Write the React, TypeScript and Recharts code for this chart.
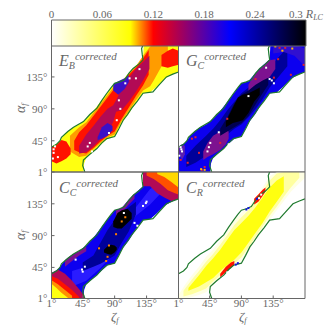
import React from "react";
import { ComposedChart, BarChart, Bar, Area, Line, Scatter, XAxis, YAxis } from "recharts";

type Band = [number, number, number][];
type Pt = [number, number];

const tickVals = [1, 45, 90, 135];
const barTicks = [0, 0.06, 0.12, 0.18, 0.24, 0.3];
const barStops: [number, string][] = [[0, "#ffffff"], [0.31, "#ffff00"], [0.4, "#ff0000"], [0.7, "#0000ff"], [1, "#000000"]];
const GRAY = "#666666";
const FONT = "'Liberation Serif', serif";

const upperContour: Pt[] = [[1,36],[8,40],[13,45],[15,50],[24,58],[32,64],[46,72],[55,82],[65,91],[72,102],[79,112],[85,120],[90,126],[97,128],[104,131],[110,140],[116,147],[124,153],[130,159],[129,166],[128,175],[130,180]];
const lowerContour: Pt[] = [[48,1],[45,10],[46,18],[55,26],[65,34],[72,42],[79,48],[90,51],[96,62],[102,74],[108,82],[114,91],[122,101],[130,112],[144,114],[152,123],[163,135],[172,139],[180,142]];
const fullStripe: Band = [[1,1,37],[10,1,42],[20,1,55],[30,1,63],[40,1,68],[46,1,73],[47,13,74],[50,21,76],[60,30,87],[70,39,100],[80,48,113],[90,51,126],[100,70,129],[110,83,141],[120,99,151],[130,112,160],[131,112,180],[140,113,180],[150,122,180],[160,132,180],[170,138,180],[180,142,180]];

// E_B
const ebOrange: Band = [[27,30,52],[40,22,64],[50,24,71],[60,33,84],[70,42,97],[80,50,110],[90,54,123],[100,73,128],[110,87,140],[120,102,150],[130,116,165],[140,122,178],[145,130,180],[155,148,180],[165,165,180]];
const ebRed: Band = [[33,32,45],[40,29,57],[50,27,67],[60,35,80],[70,44,93],[80,52,106],[90,58,119],[100,76,126],[110,92,138],[120,108,148],[130,123,161],[138,138,173]];
const ebCrimson: Band = [[40,27,38],[50,29,54],[60,37,66],[70,47,79],[80,55,90],[88,72,95],[92,86,102],[100,88,118],[110,100,134],[120,114,146],[130,130,156],[139,146,165]];
const ebBlueLow: Band = [[66,46,50],[72,48,64],[80,52,70],[87,60,66]];
const ebBlueHigh: Band = [[88,116,125],[95,110,129],[104,118,133],[110,128,137]];
const ebBlobLow: Band = [[1,16,36],[8,13,39],[15,16,46],[22,20,44],[28,26,34]];
const ebBlobHigh: Band = [[156,150,166],[165,148,172],[172,150,175],[180,152,172]];
const ebWhite: Pt[] = [[4,28],[4,33],[6,37],[10,22],[3,20],[52,37],[55,42],[93,74],[98,90],[96,102],[120,133],[125,146],[111,133],[58,30],[82,56],[105,126]];

// G_C
const gcNavy: Band = [[12,8,24],[25,14,38],[40,24,52],[50,34,62],[60,44,74],[70,54,88],[80,62,100],[90,68,112],[100,78,120],[110,90,128],[120,104,136],[130,120,148],[140,132,160],[155,150,176]];
const gcLobeLow: Band = [[36,18,30],[42,22,42],[50,26,52],[60,32,58],[68,40,60],[72,48,58]];
const gcLobeHigh: Band = [[100,114,124],[108,116,138],[118,120,148],[128,132,158],[138,146,160]];
const gcDark: Band = [[60,52,62],[70,58,78],[80,64,98],[90,70,110],[100,80,116],[110,96,124],[120,112,130],[128,124,134]];
const gcBlack: Band = [[68,64,72],[78,70,92],[85,72,106],[92,74,110],[100,84,112],[108,100,116],[116,110,120]];
const gcCornerLow: Band = [[1,28,36],[6,18,40],[10,26,38]];
const gcCornerHigh: Band = [[135,168,180],[150,170,180],[165,165,180],[180,150,175]];
const gcWhite: Pt[] = [[5,33],[6,30],[2,24],[4,36],[42,30],[44,36],[46,42],[72,40],[125,148],[130,132],[133,130],[136,126],[58,57],[100,108]];
const gcRed: Pt[] = [[4,18],[14,14],[30,28],[34,4],[38,8],[20,48],[25,50],[60,42],[70,76],[110,132],[136,134],[144,176],[152,176],[178,152],[160,138],[142,160]];
const gcYellow: Pt[] = [[33,5],[38,4],[138,178],[148,172],[162,175]];

// C_C
const ccBright: Band = [[30,18,40],[50,26,46],[70,44,60],[85,60,74],[100,92,104],[120,118,130],[140,134,156],[155,150,164]];
const ccNavy: Band = [[45,40,52],[60,46,62],[70,50,80],[80,56,98],[90,62,112],[100,80,122],[110,96,130],[120,120,138]];
const ccBlackLow: Band = [[75,66,70],[80,64,75],[85,63,77],[90,66,76],[93,70,73]];
const ccBlackHigh: Band = [[88,102,110],[94,100,122],[100,100,126],[108,108,128],[114,114,122]];
const ccCrimsonLow: Band = [[1,1,37],[10,1,42],[20,1,36],[30,1,26],[40,1,14],[47,1,5]];
const ccRedLow: Band = [[1,1,33],[10,1,29],[20,1,21],[30,1,13],[40,1,3]];
const ccOrangeLow: Band = [[1,1,27],[10,1,21],[20,1,13],[30,1,5]];
const ccYellowLow: Band = [[1,1,22],[8,1,16],[15,1,9],[24,1,2]];
const ccEdgeLow: Band = [[20,46,55],[30,54,63],[40,62,68],[50,68,75]];
const ccEdgeHigh: Band = [[92,118,126],[100,122,129],[110,134,141],[118,142,150]];
const ccCrimsonHigh: Band = [[130,160,180],[140,160,180],[150,150,180],[160,144,180],[170,139,180],[180,142,180]];
const ccRedHigh: Band = [[135,175,180],[145,170,180],[155,163,180],[165,154,180],[175,150,180],[180,148,180]];
const ccYellowHigh: Band = [[150,177,180],[160,173,180],[170,166,180],[180,158,180]];
const ccWhite: Pt[] = [[45,39],[44,42],[48,46],[66,28],[130,132],[135,138],[134,136],[118,108],[122,104],[35,56],[103,122]];
const ccOrange: Pt[] = [[68,72],[82,76],[100,110],[105,116],[78,54],[92,92],[80,60]];

// C_R
const crFaint: Band = [[1,1,6],[10,1,20],[20,3,34],[30,6,46],[40,10,60],[50,20,70],[60,30,83],[70,40,97],[80,48,112],[90,54,122],[100,68,130],[110,84,144],[120,98,158],[130,112,174],[140,126,180],[150,139,180],[160,152,180],[170,162,180],[180,172,180]];
const crPale: Band = [[8,4,12],[20,7,28],[30,11,40],[40,15,53],[50,25,64],[60,34,77],[70,43,91],[80,51,105],[90,59,116],[100,73,126],[110,88,138],[120,103,152],[130,118,168],[140,131,178],[150,145,180],[160,158,180],[172,172,180]];
const crYellow: Band = [[15,12,16],[30,18,34],[40,24,47],[50,30,58],[60,40,70],[70,48,84],[80,56,98],[90,66,108],[100,80,118],[110,94,130],[120,108,144],[130,124,158],[140,138,168],[150,152,174]];
const crRedLow: Band = [[60,31,36],[68,38,46],[75,44,52],[80,49,54]];
const crRedHigh: Band = [[108,134,142],[114,138,148],[120,146,155],[124,152,158]];
const crWhite: Pt[] = [[115,143],[118,148],[70,38]];
const crBlue: Pt[] = [[82,49],[85,51],[97,127],[100,129],[112,142]];

const YEL = "#ffff10";
const PALE = "#ffffa0";
const FAINT = "#ffffe4";
const ORG = "#ff9c00";
const RED = "#ff1200";
const CRI = "#b20a55";
const PUR = "#7d1290";
const BLU = "#0c00f0";
const BRI = "#2a1cff";
const NAV = "#00009a";
const DRK = "#000050";

type Layer = { d: Band; c: string };
type Speck = { d: Pt[]; c: string };

const toBand = (b: Band) => b.map(([z, lo, hi]) => ({ z, r: [lo, hi] }));
const toPts = (p: Pt[]) => p.map(([z, a]) => ({ z, a }));

const Square = (fill: string) => (p: any) => <rect x={p.cx - 1} y={p.cy - 1} width={2} height={2} fill={fill} />;

function Panel({ box, layers, specks, xLabels, yLabels }: { box: [number, number, number, number]; layers: Layer[]; specks: Speck[]; xLabels: boolean; yLabels: boolean }) {
  const [x0, y0, x1, y1] = box;
  const tickStyle = { fill: GRAY, fontSize: 11, fontFamily: FONT };
  const fmt = (v: number) => `${v}°`;
  return (
    <div style={{ position: "absolute", left: 0, top: 0 }}>
      <ComposedChart width={332} height={332} margin={{ top: y0 - 1, left: x0 - 1, right: 332 - x1 - 1, bottom: 332 - y1 - 1 }}>
        <XAxis dataKey="z" type="number" domain={[1, 180]} ticks={tickVals} allowDataOverflow height={1} interval={0}
          stroke={GRAY} tickSize={-3} tickMargin={4} tick={xLabels ? tickStyle : false} tickFormatter={fmt} />
        <XAxis xAxisId="t" orientation="top" dataKey="z" type="number" domain={[1, 180]} ticks={tickVals} height={1} interval={0}
          stroke={GRAY} tickSize={-3} tick={false} />
        <YAxis dataKey="a" type="number" domain={[1, 180]} ticks={tickVals} allowDataOverflow width={1} interval={0}
          stroke={GRAY} tickSize={-3} tickMargin={7} tick={yLabels ? tickStyle : false} tickFormatter={fmt} />
        <YAxis yAxisId="r" orientation="right" dataKey="a" type="number" domain={[1, 180]} ticks={tickVals} width={1} interval={0}
          stroke={GRAY} tickSize={-3} tick={false} />
        {layers.map((l, i) => (
          <Area key={i} data={toBand(l.d)} dataKey="r" type="linear" fill={l.c} fillOpacity={1} stroke="none" dot={false} activeDot={false} isAnimationActive={false} />
        ))}
        {specks.map((s, i) => (
          <Scatter key={i} data={toPts(s.d)} shape={Square(s.c)} isAnimationActive={false} />
        ))}
        <Line data={toPts(upperContour)} dataKey="a" type="linear" stroke="#1f7a2e" strokeWidth={1.2} dot={false} activeDot={false} isAnimationActive={false} />
        <Line data={toPts(lowerContour)} dataKey="a" type="linear" stroke="#1f7a2e" strokeWidth={1.2} dot={false} activeDot={false} isAnimationActive={false} />
      </ComposedChart>
    </div>
  );
}

const ebLayers: Layer[] = [
  { d: fullStripe, c: YEL }, { d: ebOrange, c: ORG }, { d: ebRed, c: RED }, { d: ebCrimson, c: CRI }, { d: ebBlueLow, c: "#3a10c8" }, { d: ebBlueHigh, c: "#3a10c8" },
  { d: ebBlobLow, c: RED }, { d: ebBlobHigh, c: RED },
];
const gcLayers: Layer[] = [
  { d: fullStripe, c: BLU }, { d: gcNavy, c: NAV }, { d: gcLobeLow, c: PUR }, { d: gcLobeHigh, c: PUR }, { d: gcDark, c: DRK }, { d: gcBlack, c: "#000000" },
  { d: gcCornerLow, c: "#5a20b0" }, { d: gcCornerHigh, c: "#3010d0" },
];
const ccLayers: Layer[] = [
  { d: fullStripe, c: BLU }, { d: ccEdgeLow, c: PUR }, { d: ccEdgeHigh, c: PUR }, { d: ccBright, c: BRI }, { d: ccNavy, c: NAV }, { d: ccBlackLow, c: "#000000" }, { d: ccBlackHigh, c: "#000000" },
  { d: ccCrimsonLow, c: CRI }, { d: ccRedLow, c: RED }, { d: ccOrangeLow, c: "#ff9000" }, { d: ccYellowLow, c: YEL },
  { d: ccCrimsonHigh, c: CRI }, { d: ccRedHigh, c: "#ff5000" }, { d: ccYellowHigh, c: "#ffd800" },
];
const crLayers: Layer[] = [
  { d: crFaint, c: FAINT }, { d: crPale, c: PALE }, { d: crYellow, c: YEL }, { d: crRedLow, c: RED }, { d: crRedHigh, c: RED },
];

const barData = [{ name: "cbar", v: barTicks[barTicks.length - 1] }];

function BarTick(p: any) {
  const v = p.payload.value;
  return (
    <text x={p.x} y={18} textAnchor="middle" fill={GRAY} fontSize={11} fontFamily={FONT}>
      {v === 0.3 ? "0.3" : String(v)}
      {v === 0.3 ? <tspan fontStyle="italic" fontSize={12}> R</tspan> : null}
      {v === 0.3 ? <tspan fontStyle="italic" fontSize={8} dy={2}>LC</tspan> : null}
    </text>
  );
}

function Title({ x, y, main, sub }: { x: number; y: number; main: string; sub: string }) {
  return (
    <text x={x} y={y} fill={GRAY} fontFamily={FONT} fontStyle="italic">
      <tspan fontSize={16}>{main}</tspan>
      <tspan fontSize={10} dy={3}>{sub}</tspan>
      <tspan fontSize={11} dy={-9}>corrected</tspan>
    </text>
  );
}

export default function App() {
  return (
    <div style={{ position: "absolute", left: 0, top: 0, width: 332, height: 332, background: "#fff" }}>
      <Panel box={[51.5, 45, 178.5, 172]} layers={ebLayers} specks={[{ d: ebWhite, c: "#ffffff" }]} xLabels={false} yLabels />
      <Panel box={[178.5, 45, 305, 172]} layers={gcLayers} specks={[{ d: gcWhite, c: "#ffffff" }, { d: gcRed, c: "#e02030" }, { d: gcYellow, c: "#ffc000" }]} xLabels={false} yLabels={false} />
      <Panel box={[51.5, 172, 178.5, 298.5]} layers={ccLayers} specks={[{ d: ccWhite, c: "#ffffff" }, { d: ccOrange, c: "#ff8000" }]} xLabels yLabels />
      <Panel box={[178.5, 172, 305, 298.5]} layers={crLayers} specks={[{ d: crWhite, c: "#ffffff" }, { d: crBlue, c: "#1010e0" }]} xLabels yLabels={false} />
      <div style={{ position: "absolute", left: 0, top: 0 }}>
        <BarChart width={332} height={50} layout="vertical" data={barData} margin={{ top: 19, left: 50.5, right: 26, bottom: 4 }} barCategoryGap={0}>
          <defs>
            <linearGradient id="cbar" x1="0" y1="0" x2="1" y2="0">
              {barStops.map(([o, c]) => <stop key={o} offset={o} stopColor={c} />)}
            </linearGradient>
          </defs>
          <XAxis type="number" orientation="top" domain={[0, 0.3]} ticks={barTicks} height={1} interval={0} axisLine={false} tickLine={false} tick={<BarTick />} />
          <YAxis type="category" dataKey="name" width={1} tick={false} axisLine={false} tickLine={false} />
          <Bar dataKey="v" fill="url(#cbar)" stroke={GRAY} strokeWidth={1} isAnimationActive={false} />
        </BarChart>
      </div>
      <svg width={332} height={332} style={{ position: "absolute", left: 0, top: 0, pointerEvents: "none" }}>
        <Title x={59} y={66} main="E" sub="B" />
        <Title x={186} y={66} main="G" sub="C" />
        <Title x={59} y={193} main="C" sub="C" />
        <Title x={186} y={193} main="C" sub="R" />
        <text x={111} y={321} fill={GRAY} fontFamily={FONT} fontStyle="italic" fontSize={13}>ζ<tspan fontSize={8} dy={2}>f</tspan></text>
        <text x={239} y={321} fill={GRAY} fontFamily={FONT} fontStyle="italic" fontSize={13}>ζ<tspan fontSize={8} dy={2}>f</tspan></text>
        <text transform="translate(25,113) rotate(-90)" fill={GRAY} fontFamily={FONT} fontStyle="italic" fontSize={14}>α<tspan fontSize={8} dy={2}>f</tspan></text>
        <text transform="translate(25,240) rotate(-90)" fill={GRAY} fontFamily={FONT} fontStyle="italic" fontSize={14}>α<tspan fontSize={8} dy={2}>f</tspan></text>
      </svg>
    </div>
  );
}
